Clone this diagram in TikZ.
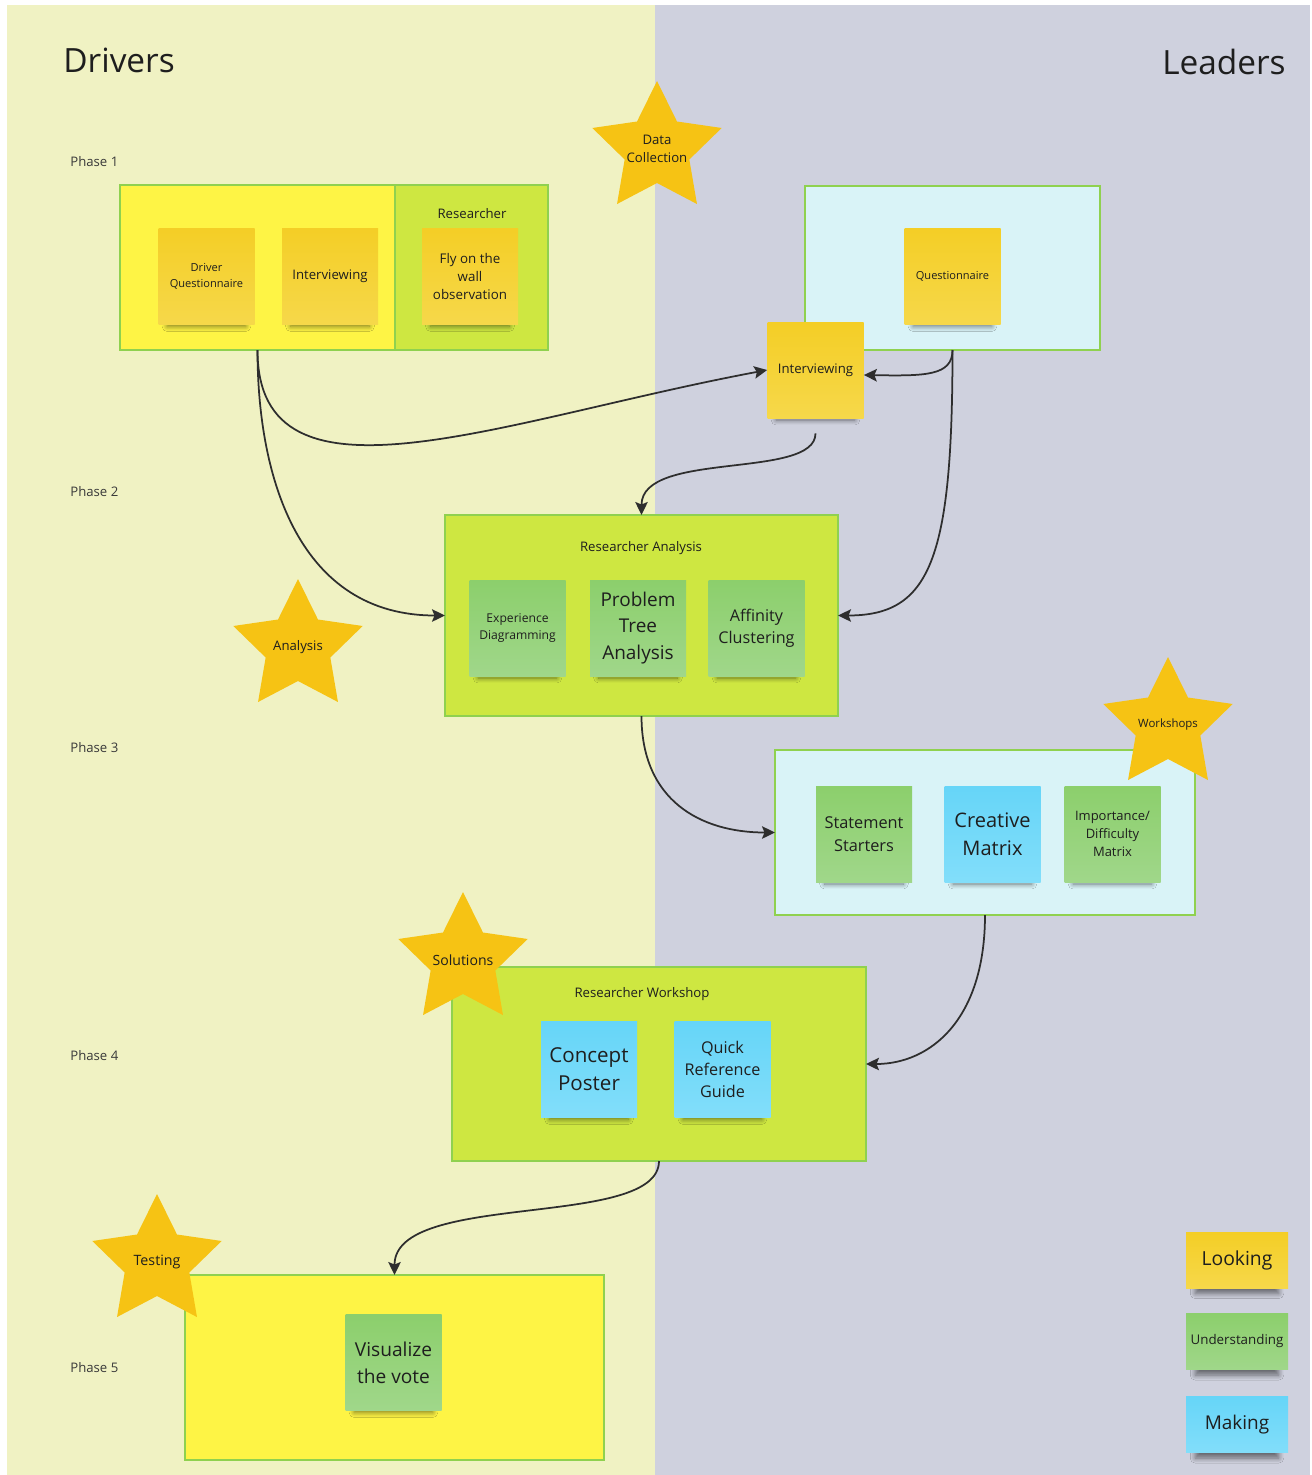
\documentclass[tikz,border=0pt]{standalone}
\usepackage{fontspec}
\setmainfont{Open Sans}
\usepackage{xcolor}
\usepackage{tikz}
\usetikzlibrary{positioning}
\usetikzlibrary{shapes.geometric}
\usetikzlibrary{arrows.meta}
\usetikzlibrary{shadows.blur}

\definecolor{drvbg}{HTML}{F0F2C3}
\definecolor{ldrbg}{HTML}{CFD1DE}
\definecolor{padyellow}{HTML}{FEF445}
\definecolor{padlime}{HTML}{CEE741}
\definecolor{padcyan}{HTML}{D9F3F7}
\definecolor{padedge}{HTML}{8FD14F}
\definecolor{noteyellowA}{HTML}{F4CE26}
\definecolor{noteyellowB}{HTML}{F6D84A}
\definecolor{notegreenA}{HTML}{8CCF6C}
\definecolor{notegreenB}{HTML}{A0D78A}
\definecolor{noteblueA}{HTML}{66D5F8}
\definecolor{noteblueB}{HTML}{82DEFA}
\definecolor{starfill}{HTML}{F6C314}
\definecolor{ink}{HTML}{1E1E1E}
\definecolor{phasegray}{HTML}{3A3A3A}
\definecolor{wire}{HTML}{2E2E2E}

\newcommand\fsz[2]{\fontsize{#1}{#2}\selectfont}

\begin{document}
\begin{tikzpicture}[x=0.2mm,y=-0.2mm,
  pad/.style={draw=padedge,line width=0.4mm,outer sep=0pt,inner sep=0pt},
  note/.style={minimum width=19.2mm,minimum height=19.2mm,inner sep=0.8mm,align=center,text=ink,
    blur shadow={shadow xshift=0mm,shadow yshift=-2.6mm,shadow scale=0.82,shadow blur radius=1.2mm,shadow blur steps=8,shadow opacity=50}},
  ylw/.style={note,top color=noteyellowA,bottom color=noteyellowB},
  grn/.style={note,top color=notegreenA,bottom color=notegreenB},
  blu/.style={note,top color=noteblueA,bottom color=noteblueB},
  phasestar/.style={star,star points=5,star point ratio=2,fill=starfill,inner sep=-4mm,minimum size=27.2mm,align=center,text=ink},
  phase/.style={anchor=west,inner sep=0pt,text=phasegray,font=\fsz{7.5}{10}},
  padlabel/.style={inner sep=0pt,text=ink,font=\fsz{7.5}{10}},
  flow/.style={draw=wire,line width=0.35mm,-{Stealth[length=2.6mm,width=2.5mm,inset=0.5mm]}}]
\useasboundingbox (0,0) rectangle (1312,1475);
\fill[white] (0,0) rectangle (1312,1475);
\fill[drvbg] (7,5) rectangle (655,1475);
\fill[ldrbg] (655,5) rectangle (1310,1475);

\node[anchor=base west,inner sep=0pt,text=ink,font=\fsz{19}{23}] (drivers) at (63,72) {Drivers};
\node[anchor=base east,inner sep=0pt,text=ink,font=\fsz{19}{23}] (leaders) at (1286,74) {Leaders};

\node[phase] (ph1) at (70,162) {Phase 1};
\node[phase] (ph2) at (70,492) {Phase 2};
\node[phase] (ph3) at (70,748) {Phase 3};
\node[phase] (ph4) at (70,1056) {Phase 4};
\node[phase] (ph5) at (70,1368) {Phase 5};

% phase 1
\node[pad,fill=padyellow,minimum width=55mm,minimum height=33mm] (drvBox) at (257.5,267.5) {};
\node[pad,fill=padlime,minimum width=30.6mm,minimum height=33mm,right=0pt of drvBox] (resBox) {};
\node[padlabel] (resLbl) at (472,214) {Researcher};
\node[ylw,font=\fsz{6.3}{8.7}] (dq) at (206.5,276.5) {Driver\\Questionnaire};
\node[ylw,font=\fsz{7.5}{10.3}] (intD) at (330,276.5) {Interviewing};
\node[ylw,font=\fsz{7.6}{10.2}] (fly) at (470,276.5) {Fly on the\\wall\\observation};

\node[pad,fill=padcyan,minimum width=59mm,minimum height=32.8mm] (qBox) at (952.5,268) {};
\node[ylw,font=\fsz{6.3}{8.7}] (qst) at (952.5,276.5) {Questionnaire};
\node[ylw,font=\fsz{7.5}{10.3}] (intL) at (815.5,370) {Interviewing};
\node[phasestar,font=\fsz{7.5}{10.6}] (dcStar) at (657,149) {Data\\Collection};

% phase 2
\node[pad,fill=padlime,minimum width=78.6mm,minimum height=40.2mm] (anaBox) at (641.5,615.5) {};
\node[padlabel] (anaLbl) at (641,548) {Researcher Analysis};
\node[grn,font=\fsz{6.9}{9.5}] (exp) at (517.5,628) {Experience\\Diagramming};
\node[grn,font=\fsz{10.8}{15.2}] (pta) at (638,628) {Problem\\Tree\\Analysis};
\node[grn,font=\fsz{9.2}{12.8}] (aff) at (756.5,628) {Affinity\\Clustering};
\node[phasestar,font=\fsz{7.5}{10.6}] (anStar) at (298,647) {Analysis};

% phase 3
\node[pad,fill=padcyan,minimum width=84mm,minimum height=33mm] (wsBox) at (985,832.5) {};
\node[grn,font=\fsz{9.3}{12.8}] (ss) at (864,834) {Statement\\Starters};
\node[blu,font=\fsz{11.4}{15.8}] (cm) at (992.5,834) {Creative\\Matrix};
\node[grn,font=\fsz{7.4}{10.2}] (idm) at (1112.5,834) {Importance/\\Difficulty\\Matrix};
\node[phasestar,font=\fsz{6.5}{9}] (wsStar) at (1168,725) {Workshops};

% phase 4
\node[pad,fill=padlime,minimum width=82.8mm,minimum height=38.8mm] (rwBox) at (659,1064) {};
\node[padlabel] (rwLbl) at (642,994) {Researcher Workshop};
\node[blu,font=\fsz{11.7}{16}] (cp) at (589,1069.5) {Concept\\Poster};
\node[blu,font=\fsz{9.2}{12.7}] (qrg) at (722.5,1069.5) {Quick\\Reference\\Guide};
\node[phasestar,font=\fsz{8}{11}] (solStar) at (463,960) {Solutions};

% phase 5
\node[pad,fill=padyellow,minimum width=83.8mm,minimum height=37mm] (p5Box) at (394.5,1367.5) {};
\node[grn,font=\fsz{10.9}{15.2}] (vis) at (393.5,1362.5) {Visualize\\the vote};
\node[phasestar,font=\fsz{8.1}{11}] (tstStar) at (157,1262) {Testing};

% key
\node[ylw,minimum width=20.4mm,minimum height=11.2mm,font=\fsz{11}{14}] (lgLook) at (1237,1260) {Looking};
\node[grn,minimum width=20.4mm,minimum height=11.2mm,font=\fsz{7.6}{10}] (lgUnd) at (1237,1341.5) {Understanding};
\node[blu,minimum width=20.4mm,minimum height=11.2mm,font=\fsz{10.8}{14}] (lgMake) at (1237,1424.5) {Making};

\draw[flow] (drvBox.south) .. controls (257.5,520) and (500,420) .. (intL.west);
\draw[flow] (drvBox.south) .. controls (257.5,480) and (300,615.5) .. (anaBox.west);
\draw[flow] (qBox.south) .. controls (952.5,376) and (925,376) .. ([yshift=-1mm]intL.east);
\draw[flow] (qBox.south) .. controls (952.5,560) and (930,615.5) .. (anaBox.east);
\draw[flow] ([yshift=-3mm]intL.south) .. controls (815.5,480) and (641.5,450) .. (anaBox.north);
\draw[flow] (anaBox.south) .. controls (641.5,800) and (700,832.5) .. (wsBox.west);
\draw[flow] (wsBox.south) .. controls (985,1020) and (930,1064) .. (rwBox.east);
\draw[flow] (rwBox.south) .. controls (659,1230) and (394.5,1190) .. (p5Box.north);
\end{tikzpicture}
\end{document}
